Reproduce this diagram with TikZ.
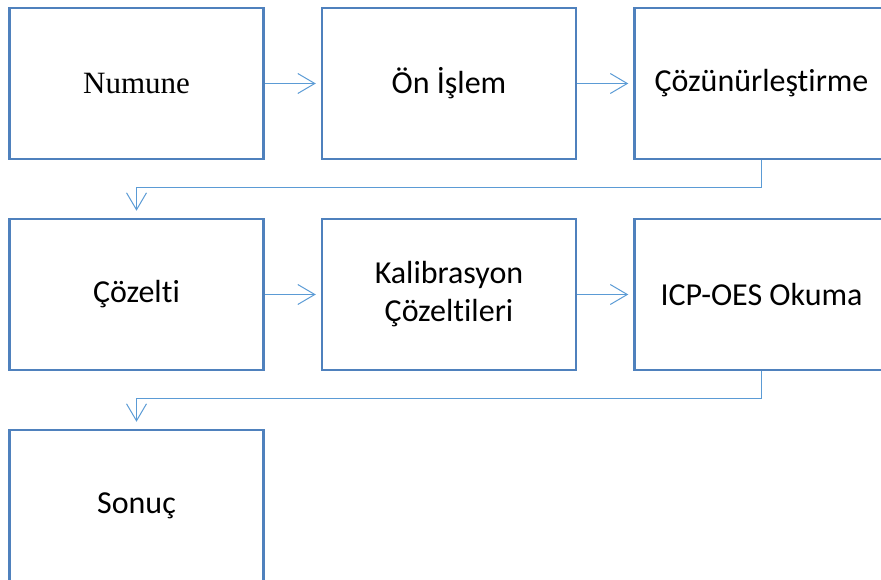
\documentclass[tikz,border=0pt]{standalone}
\usepackage{fontspec}
\setmainfont{Carlito}[Ligatures=NoCommon]
\newfontfamily\timesfont{Liberation Serif}
\usetikzlibrary{arrows.meta, positioning}
\definecolor{boxblue}{HTML}{4F81BD}
\definecolor{linkblue}{HTML}{5B9BD5}

\begin{document}
\begin{tikzpicture}[>={Straight Barb[length=17pt, width=20pt]},
                    x=1pt, y=1pt,
                    stepbox/.style = {draw=boxblue, line width=2.5pt,
                                      minimum width=254pt, minimum height=151pt,
                                      inner sep=0pt, align=center,
                                      font=\fontsize{32}{38}\selectfont},
                    link/.style = {->, draw=linkblue, line width=1pt, shorten >=5pt}
                   ]

    \useasboundingbox (0,0) rectangle (881,-580);
    \clip (0,0) rectangle (881,-580);

    % first row
    \node[stepbox] (numune) at (136.5,-83.5) {\timesfont\fontsize{31}{38}\selectfont Numune};
    \node[stepbox, right=56pt of numune] (onislem) {Ön İşlem};
    \node[stepbox, right=56pt of onislem] (cozunur) {Çözünürleştirme};

    % second row
    \node[stepbox, below=57.5pt of numune] (cozelti) {Çözelti};
    \node[stepbox, right=56pt of cozelti] (kalib) {Kalibrasyon\\Çözeltileri};
    \node[stepbox, right=56pt of kalib] (icp) {ICP-OES Okuma};

    % third row
    \node[stepbox, below=57.5pt of cozelti] (sonuc) {Sonuç};

    \draw[link] (numune) -- (onislem);
    \draw[link] (onislem) -- (cozunur);
    \draw[link] (cozelti) -- (kalib);
    \draw[link] (kalib) -- (icp);

    \draw[link, shorten >=7pt] (cozunur.south) -- ++(0,-27) -| (cozelti.north);
    \draw[link, shorten >=7pt] (icp.south) -- ++(0,-27) -| (sonuc.north);

\end{tikzpicture}
\end{document}
